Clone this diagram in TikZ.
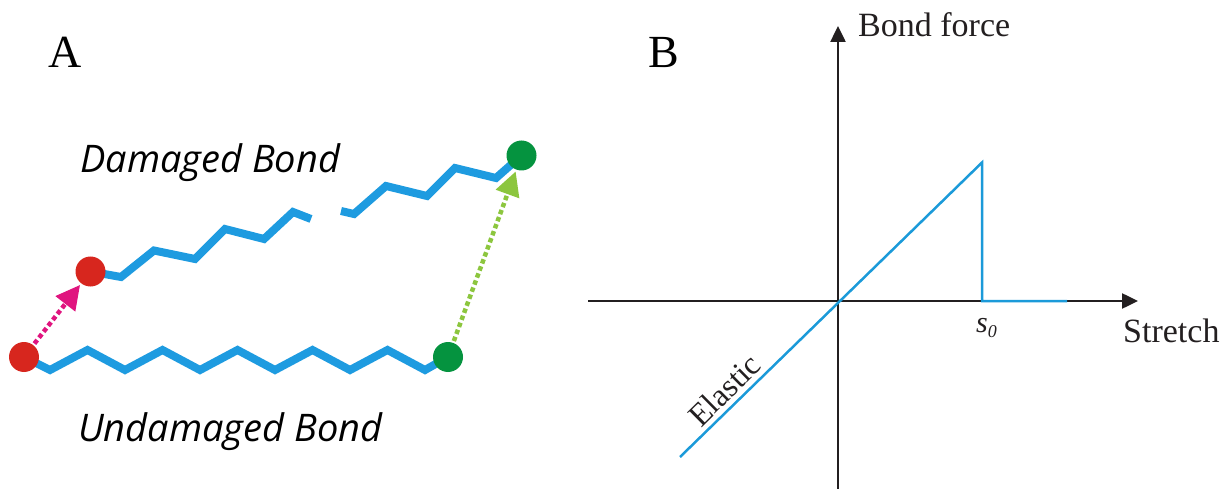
\documentclass[tikz,border=0pt]{standalone}
\usepackage{fontspec}
\setmainfont{Liberation Serif}
\newfontfamily\opensans{Open Sans}
\usetikzlibrary{arrows.meta}
\definecolor{bondblue}{HTML}{1E9BE0}
\definecolor{graphblue}{HTML}{1B9AD9}
\definecolor{dotred}{HTML}{D7261E}
\definecolor{dotgreen}{HTML}{05933F}
\definecolor{arrpink}{HTML}{E0157F}
\definecolor{arrlime}{HTML}{8CC63E}
\definecolor{axisblack}{HTML}{231F20}
\tikzset{
  particle/.style={circle, fill=#1, minimum size=30pt, inner sep=0pt, outer sep=2pt},
  zig/.style={draw=bondblue, line width=8pt, line join=miter},
  moveto/.style={line width=4.5pt, dash pattern=on 4.5pt off 3pt, draw=#1,
    -{Triangle[length=24pt,width=24pt,fill=#1]}},
  axis/.style={draw=axisblack, line width=2.5pt, -{Triangle[length=16pt,width=15pt]}},
  curve/.style={draw=graphblue, line width=2.5pt},
  serif/.style={font=\fontsize{34}{40}\selectfont, text=axisblack, inner sep=0pt},
  panel/.style={font=\fontsize{46}{52}\selectfont, inner sep=0pt},
  bondlabel/.style={font=\opensans\itshape\fontsize{38}{44}\selectfont, inner sep=0pt, anchor=base west},
}
\begin{document}
\begin{tikzpicture}[x=1pt, y=-1pt]
\useasboundingbox (0,0) rectangle (1229,489);
% ---------- Panel A ----------
\node[panel, anchor=base west] (lA) at (48,68) {A};
\node[bondlabel] (ldam) at (80,173) {Damaged Bond};
\node[bondlabel] (lund) at (78,441) {Undamaged Bond};

\coordinate (rbp) at (24,357);
\coordinate (gbp) at (448,357);
\coordinate (rtp) at (90.5,271.5);
\coordinate (gtp) at (521.5,155.5);
\coordinate (gapL) at (311,219);
\coordinate (gapR) at (341,211);

% undamaged bond
\draw[zig] (rbp) -- (50,370) -- (87.5,350) -- (125,370) -- (162.5,350) -- (200,370)
  -- (237.5,350) -- (275,370) -- (312.5,350) -- (350,370) -- (387.5,350) -- (425,370) -- (gbp);
% damaged bond
\draw[zig] (rtp) -- (121,277) -- (154,250.5) -- (195,259) -- (225,229) -- (264,239)
  -- (293,212) -- (gapL);
\draw[zig] (gapR) -- (354,214) -- (386,186) -- (427,196) -- (455,168) -- (496,178) -- (gtp);

\node[particle=dotred] (rb) at (rbp) {};
\node[particle=dotgreen] (gb) at (gbp) {};
\node[particle=dotred] (rt) at (rtp) {};
\node[particle=dotgreen] (gt) at (gtp) {};

\draw[moveto=arrpink] (rb) -- (rt);
\draw[moveto=arrlime] (gb) -- (gt);

% ---------- Panel B ----------
\node[panel, anchor=base west] (lB) at (648,68) {B};
\coordinate (O) at (838,301);
\coordinate (ybot) at (838,489);
\coordinate (ytop) at (838,26);
\coordinate (xleft) at (588,301);
\coordinate (xright) at (1138,301);
\draw[axis] (ybot) -- (ytop);
\draw[axis] (xleft) -- (xright);

\coordinate (c0) at (680,457);
\coordinate (peak) at (982,162.5);
\coordinate (s0p) at (982,301);
\coordinate (cend) at (1067,301);
\draw[curve, line join=miter] (c0) -- (peak) -- (s0p) -- (cend);

\node[serif, anchor=base west] (lforce) at (858,37) {Bond force};
\node[serif, anchor=base west] (lstretch) at (1123,342) {Stretch};
\node[serif, anchor=base west, font=\fontsize{30}{36}\selectfont] (ls0) at (976,332) {\textit{s}\raisebox{-5pt}{\fontsize{18}{20}\selectfont\textit{0}}};
\node[serif, anchor=base, rotate=44.6, font=\fontsize{32}{38}\selectfont] (lel) at (732,398) {Elastic};
\end{tikzpicture}
\end{document}
